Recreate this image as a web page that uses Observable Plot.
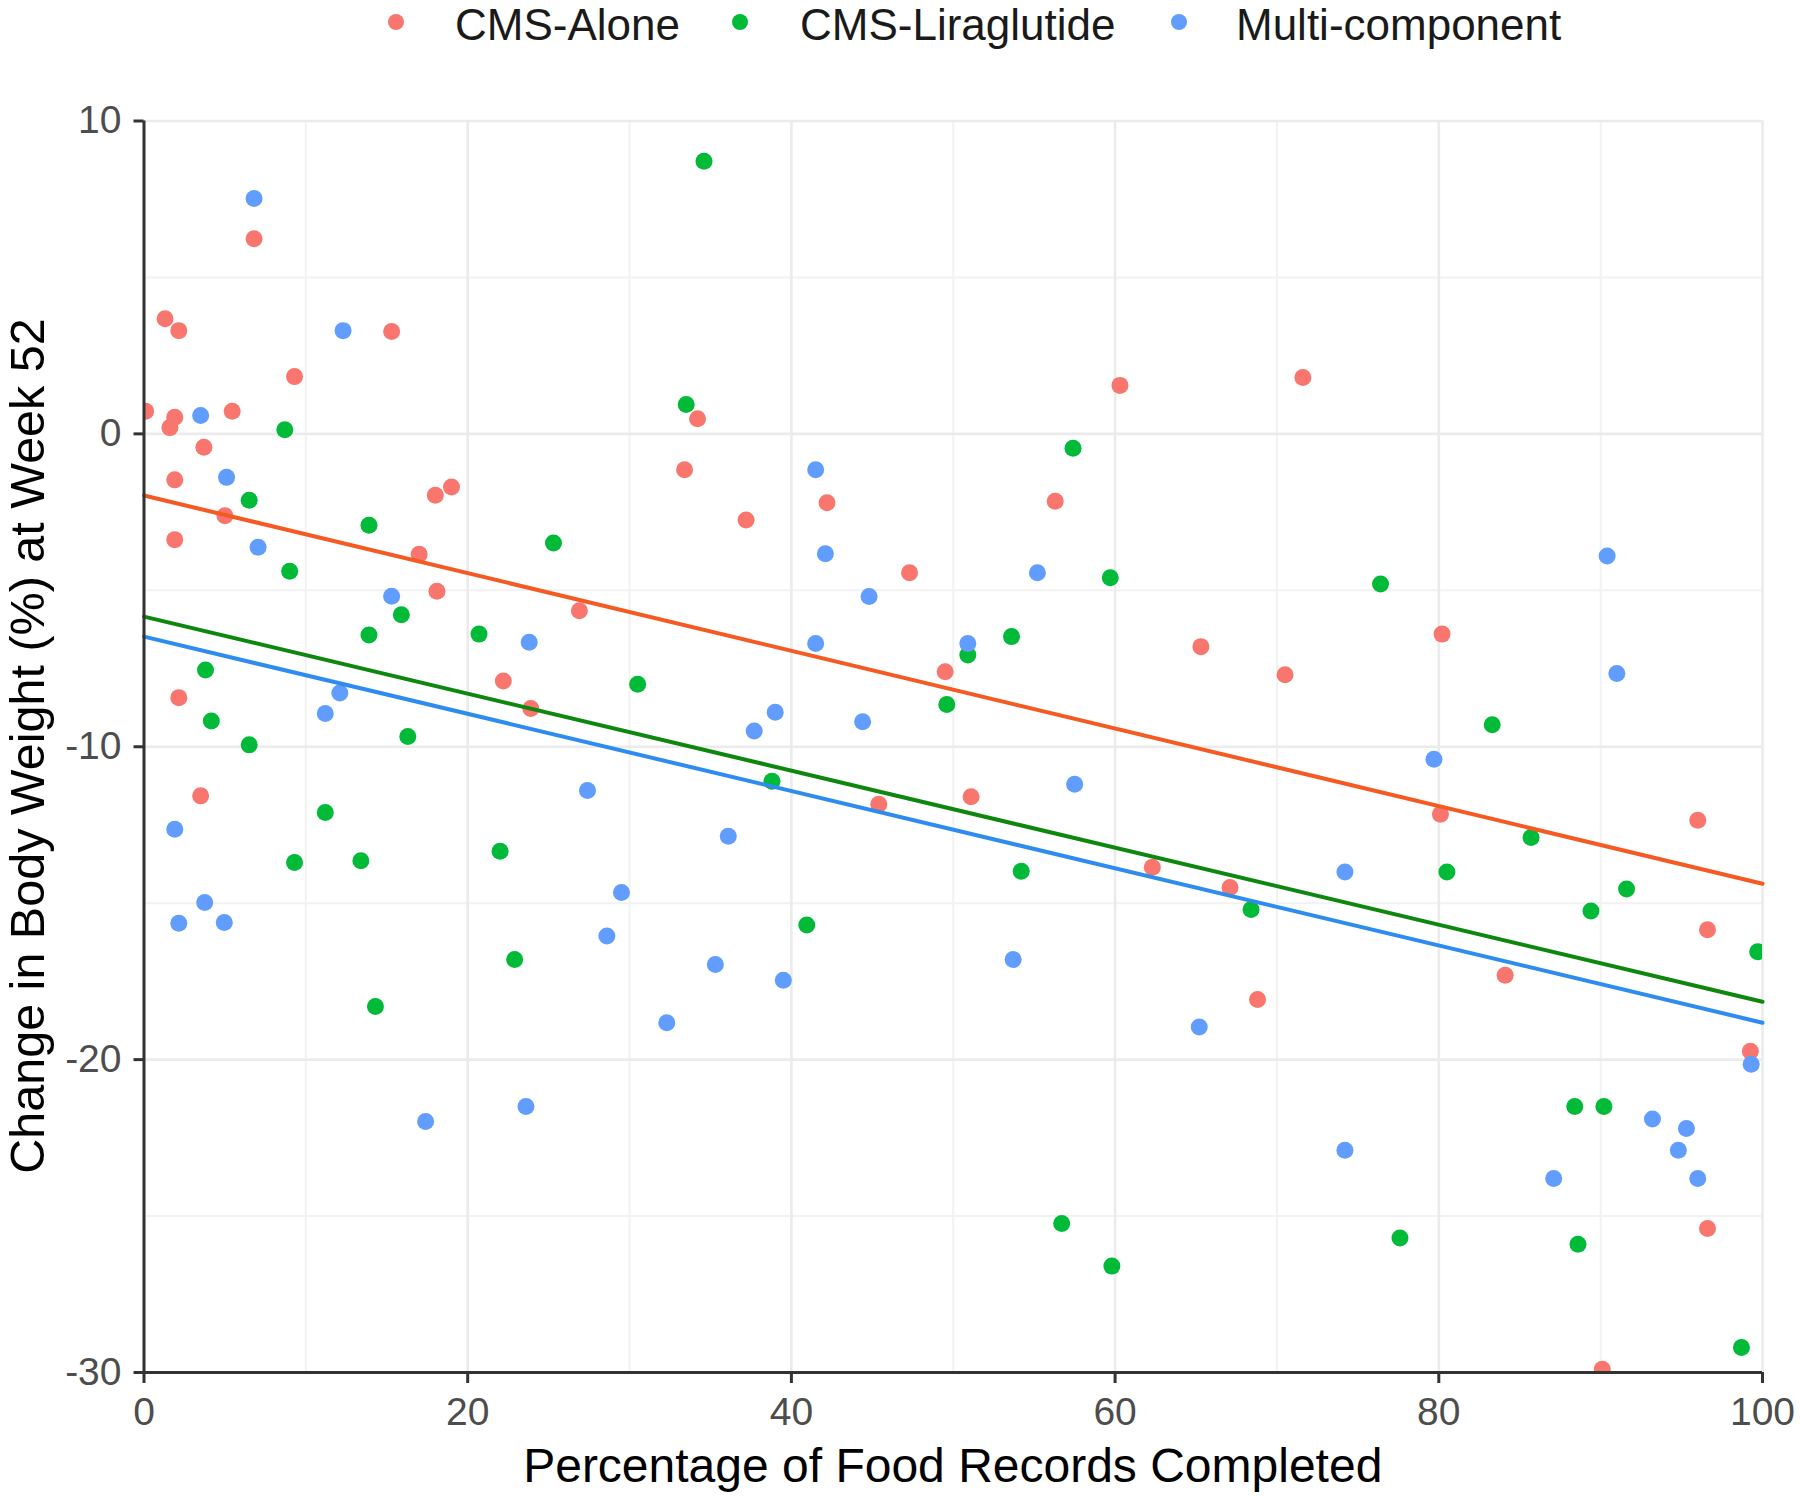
<!DOCTYPE html>
<html>
<head>
<meta charset="utf-8">
<script src="https://cdn.jsdelivr.net/npm/d3@7"></script>
<script src="https://cdn.jsdelivr.net/npm/@observablehq/plot@0.6"></script>
<style>
  html, body { margin: 0; padding: 0; background: #ffffff; }
  body { width: 1800px; font-family: "Liberation Sans", Arial, sans-serif; }
  #legend { display: block; }
  #chart svg { display: block; }
</style>
</head>
<body>
<div id="legend"></div>
<div id="chart"></div>
<script>
// ---------------- data ----------------
const groups = ["CMS-Alone", "CMS-Liraglutide", "Multi-component"];

// CMS-Alone
const alonePct = [0.1, 1.3, 1.6, 1.9, 1.9, 1.9, 2.15, 2.15, 3.5, 3.7, 5.0, 5.45, 6.8, 9.3, 15.3, 17.0, 18.0, 18.1, 19.0, 22.2, 23.9, 26.9, 33.4, 34.2, 37.2, 42.2, 45.4, 47.3, 49.5, 51.1, 56.3, 60.3, 62.3, 65.3, 67.1, 68.8, 70.5, 71.6, 80.2, 80.1, 84.1, 90.1, 96.0, 96.6, 96.6, 99.25];
const aloneChange = [0.72, 3.68, 0.2, 0.53, -1.47, -3.38, 3.3, -8.43, -11.57, -0.43, -2.62, 0.72, 6.24, 1.83, 3.27, -3.85, -1.96, -5.03, -1.7, -7.9, -8.78, -5.65, -1.15, 0.48, -2.75, -2.2, -11.84, -4.44, -7.6, -11.6, -2.15, 1.55, -13.85, -6.8, -14.5, -18.08, -7.7, 1.8, -6.4, -12.16, -17.3, -29.9, -12.35, -15.85, -25.4, -19.73];

// CMS-Liraglutide
const liraPct = [3.8, 4.16, 6.5, 6.5, 8.7, 9.0, 9.3, 11.2, 13.4, 13.9, 13.9, 14.3, 15.9, 16.3, 20.7, 22.0, 22.9, 25.3, 30.5, 33.5, 34.6, 38.8, 40.95, 49.6, 50.9, 53.6, 54.2, 56.7, 57.4, 59.7, 59.8, 68.4, 76.4, 77.6, 80.5, 83.3, 85.7, 88.4, 88.6, 89.4, 90.2, 91.6, 98.7, 99.7];
const liraChange = [-7.55, -9.18, -2.12, -9.94, 0.13, -4.39, -13.7, -12.1, -13.64, -2.92, -6.43, -18.3, -5.78, -9.67, -6.4, -13.34, -16.8, -3.49, -8.0, 0.94, 8.71, -11.1, -15.7, -8.65, -7.07, -6.48, -13.98, -25.24, -0.46, -4.6, -26.6, -15.2, -4.8, -25.7, -14.0, -9.3, -12.9, -21.5, -25.9, -15.25, -21.5, -14.55, -29.2, -16.55];

// Multi-component
const multiPct = [1.9, 2.15, 3.5, 3.75, 4.96, 5.1, 6.8, 7.05, 11.2, 12.1, 12.3, 15.3, 17.4, 23.6, 23.8, 27.4, 28.6, 29.5, 32.3, 35.3, 36.1, 37.7, 39.0, 39.5, 41.5, 41.5, 42.1, 44.4, 44.8, 50.9, 53.7, 55.2, 57.5, 65.2, 74.2, 74.2, 79.7, 87.1, 90.4, 91.0, 93.2, 94.8, 95.3, 96.0, 99.3];
const multiChange = [-12.64, -15.64, 0.59, -14.98, -15.62, -1.39, 7.52, -3.62, -8.94, -8.28, 3.3, -5.19, -21.98, -21.5, -6.66, -11.4, -16.05, -14.66, -18.82, -16.96, -12.86, -9.5, -8.9, -17.46, -1.15, -6.7, -3.83, -9.2, -5.2, -6.7, -16.8, -4.44, -11.2, -18.96, -14.0, -22.9, -10.4, -23.8, -3.9, -7.66, -21.9, -22.9, -22.2, -23.8, -20.15];

// fitted regression lines (value at 0% and at 100%)
const fitPct = [0, 100];
const fitStart = [-1.97, -5.84, -6.48];
const fitEnd = [-14.38, -18.15, -18.82];

// ticks
const xMajor = [0, 20, 40, 60, 80, 100];
const xMinor = [10, 30, 50, 70, 90];
const yMajor = [-30, -20, -10, 0, 10];
const yMinor = [-25, -15, -5, 5];

const xTitle = "Percentage of Food Records Completed";
const yTitle = "Change in Body Weight (%) at Week 52";

// ---------------- styles ----------------
const pointColors = ["#F8766D", "#00BA38", "#619CFF"];
const lineColors = ["#F45A22", "#0E870E", "#2E8CF0"];
const FONT = '"Liberation Sans", Arial, sans-serif';

// ---------------- build tables ----------------
const pctArrays = [alonePct, liraPct, multiPct];
const chgArrays = [aloneChange, liraChange, multiChange];
const rows = [];
groups.forEach((g, i) => {
  pctArrays[i].forEach((p, j) => rows.push({group: g, pct: p, change: chgArrays[i][j]}));
});
const fits = groups.map((g, i) => fitPct.map((p, k) => ({group: g, pct: p, change: k === 0 ? fitStart[i] : fitEnd[i]})));

// ---------------- legend ----------------
const legendH = 52;
const legend = d3.select("#legend").append("svg")
  .attr("width", 1800).attr("height", legendH)
  .style("display", "block");
const legendDotX = [396, 740, 1179];
const legendTextX = [455, 800, 1236];
groups.forEach((g, i) => {
  legend.append("circle").attr("cx", legendDotX[i]).attr("cy", 22).attr("r", 8).attr("fill", pointColors[i]);
  legend.append("text").attr("x", legendTextX[i]).attr("y", 40)
    .attr("font-family", FONT).attr("font-size", 44).attr("fill", "#1a1a1a").text(g);
});

// ---------------- chart ----------------
const svgH = 1496 - legendH;
const chart = Plot.plot({
  width: 1800,
  height: svgH,
  marginLeft: 143.5,
  marginRight: 38,
  marginTop: 120.5 - legendH,
  marginBottom: 124,
  style: {fontFamily: FONT, background: "#ffffff", overflow: "visible"},
  x: {domain: [0, 100], label: null},
  y: {domain: [-30, 10], label: null},
  color: {domain: groups, range: pointColors},
  marks: [
    Plot.gridX(xMinor, {stroke: "#F2F2F2", strokeOpacity: 1, strokeWidth: 2}),
    Plot.gridY(yMinor, {stroke: "#F2F2F2", strokeOpacity: 1, strokeWidth: 2}),
    Plot.gridX(xMajor, {stroke: "#EBEBEB", strokeOpacity: 1, strokeWidth: 2.6}),
    Plot.gridY(yMajor, {stroke: "#EBEBEB", strokeOpacity: 1, strokeWidth: 2.6}),
    Plot.dot(rows, {x: "pct", y: "change", fill: "group", r: 8.5, clip: true}),
    ...fits.map((f, i) => Plot.line(f, {x: "pct", y: "change", stroke: lineColors[i], strokeWidth: 4})),
    Plot.ruleX([0], {stroke: "#333333", strokeWidth: 3}),
    Plot.ruleY([-30], {stroke: "#333333", strokeWidth: 3}),
    Plot.axisX(xMajor, {tickSize: 11, tickPadding: 14, fontSize: 39, tickFormat: d => `${d}`, label: null, stroke: "#333333", strokeWidth: 3, fill: "#4D4D4D"}),
    Plot.axisY(yMajor, {tickSize: 10, tickPadding: 12.5, fontSize: 39, tickFormat: d => `${d}`, label: null, stroke: "#333333", strokeWidth: 3, fill: "#4D4D4D"})
  ]
});
document.getElementById("chart").appendChild(chart);

// axis titles
const svg = d3.select(chart);
svg.append("text")
  .attr("x", (143.5 + 1762) / 2).attr("y", 1482 - legendH)
  .attr("text-anchor", "middle").attr("font-family", FONT).attr("font-size", 48).attr("fill", "#000")
  .text(xTitle);
svg.append("text")
  .attr("transform", `translate(44, ${746 - legendH}) rotate(-90)`)
  .attr("text-anchor", "middle").attr("font-family", FONT).attr("font-size", 48.5).attr("fill", "#000")
  .text(yTitle);
</script>
</body>
</html>
